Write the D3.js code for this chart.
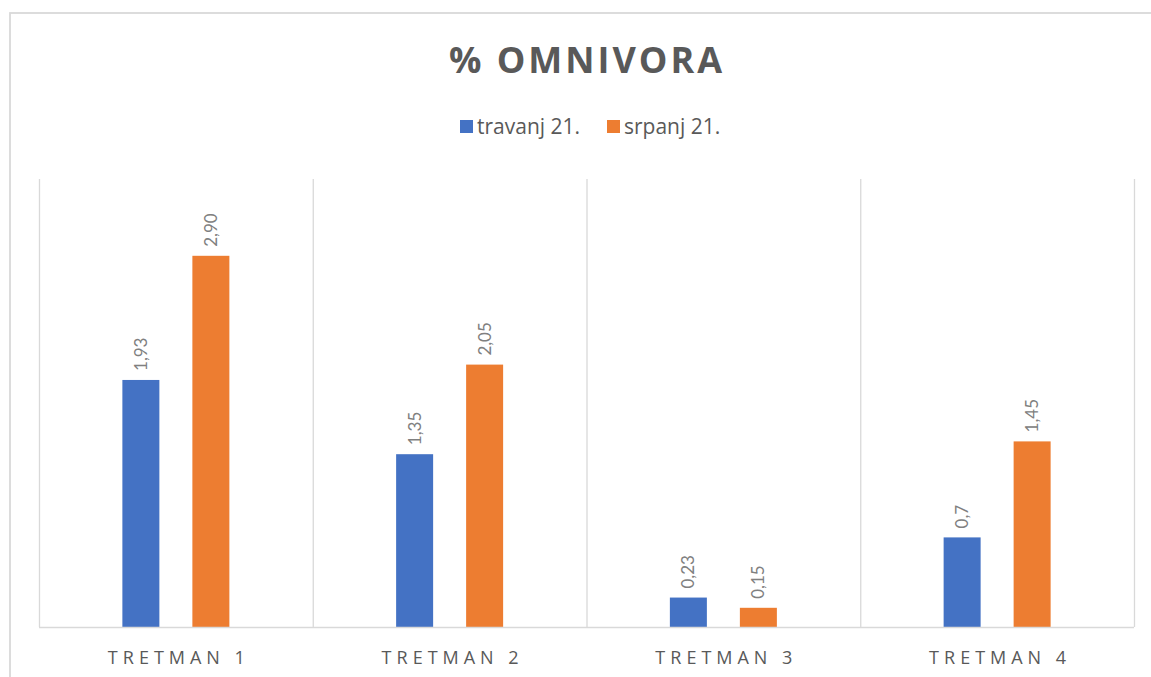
<!DOCTYPE html>
<html>
<head>
<meta charset="utf-8">
<script src="https://cdn.jsdelivr.net/npm/d3@7"></script>
<style>
  body { margin: 0; background: #fff; }
  svg { display: block; }
</style>
</head>
<body>
<svg id="chart" width="1151" height="677"></svg>
<script>
// Daten
const categories = ["TRETMAN 1", "TRETMAN 2", "TRETMAN 3", "TRETMAN 4"];
const seriesNames = ["travanj 21.", "srpanj 21."];
const travanj = [1.93, 1.35, 0.23, 0.7];
const srpanj = [2.90, 2.05, 0.15, 1.45];
const labelsTravanj = ["1,93", "1,35", "0,23", "0,7"];
const labelsSrpanj = ["2,90", "2,05", "0,15", "1,45"];
const colors = ["#4472c4", "#ed7d31"];

const svg = d3.select("#chart");
const font = "Lato, 'Open Sans', sans-serif";
const fontOpen = "'Open Sans', sans-serif";

// Rahmen
svg.append("rect")
    .attr("x", 10).attr("y", 13)
    .attr("width", 1170).attr("height", 700)
    .attr("fill", "none").attr("stroke", "#d9d9d9").attr("stroke-width", 1.8);

const plotLeft = 39, plotRight = 1134, plotTop = 179, plotBottom = 627;

const x = d3.scaleBand().domain(categories).range([plotLeft, plotRight]);
const y = d3.scaleLinear().domain([0, 3.5]).range([plotBottom, plotTop]);

// vertikale Gitterlinien an Kategoriegrenzen
const bounds = categories.map(c => x(c)).concat([plotRight]);
svg.append("g").selectAll("line")
    .data(bounds)
    .join("line")
    .attr("x1", d => d + 0.5).attr("x2", d => d + 0.5)
    .attr("y1", plotTop).attr("y2", plotBottom)
    .attr("stroke", "#d9d9d9").attr("stroke-width", 1.3);

// Balken
const barW = 37, offset = 35;
const series = [
    {name: seriesNames[0], values: travanj, labels: labelsTravanj, color: colors[0], dx: -offset},
    {name: seriesNames[1], values: srpanj, labels: labelsSrpanj, color: colors[1], dx: offset}
];

series.forEach(function(s) {
    const g = svg.append("g");
    g.selectAll("rect")
        .data(s.values)
        .join("rect")
        .attr("x", (d, i) => x(categories[i]) + x.bandwidth() / 2 + s.dx - barW / 2)
        .attr("y", d => y(d))
        .attr("width", barW)
        .attr("height", d => plotBottom - y(d))
        .attr("fill", s.color);

    // Beschriftung (gedreht)
    g.selectAll("text")
        .data(s.values)
        .join("text")
        .attr("transform", (d, i) => {
            const cx = x(categories[i]) + x.bandwidth() / 2 + s.dx + 6;
            return "translate(" + cx + "," + (y(d) - 9) + ") rotate(-90)";
        })
        .attr("font-family", font)
        .attr("font-size", 17)
        .attr("fill", "#808080")
        .text((d, i) => s.labels[i]);
});

// x-Achse
svg.append("line")
    .attr("x1", plotLeft).attr("x2", plotRight)
    .attr("y1", plotBottom + 0.5).attr("y2", plotBottom + 0.5)
    .attr("stroke", "#d9d9d9").attr("stroke-width", 1.5);

svg.append("g").selectAll("text")
    .data(categories)
    .join("text")
    .attr("x", d => x(d) + x.bandwidth() / 2 + 3)
    .attr("y", 664)
    .attr("text-anchor", "middle")
    .attr("font-family", fontOpen)
    .attr("font-size", 18)
    .attr("letter-spacing", "5px")
    .attr("fill", "#595959")
    .text(d => d);

// Titel
svg.append("text")
    .attr("x", 587).attr("y", 73)
    .attr("text-anchor", "middle")
    .attr("font-family", fontOpen)
    .attr("font-weight", "bold")
    .attr("font-size", 36)
    .attr("letter-spacing", "3px")
    .attr("fill", "#595959")
    .text("% OMNIVORA");

// Legende
const legend = svg.append("g");
const legendItems = [
    {name: seriesNames[0], color: colors[0], x: 460},
    {name: seriesNames[1], color: colors[1], x: 607}
];
legendItems.forEach(function(item) {
    legend.append("rect")
        .attr("x", item.x).attr("y", 120)
        .attr("width", 13).attr("height", 13)
        .attr("fill", item.color);
    legend.append("text")
        .attr("x", item.x + 17).attr("y", 134)
        .attr("font-family", fontOpen)
        .attr("font-size", 21)
        .attr("fill", "#595959")
        .text(item.name);
});
</script>
</body>
</html>
